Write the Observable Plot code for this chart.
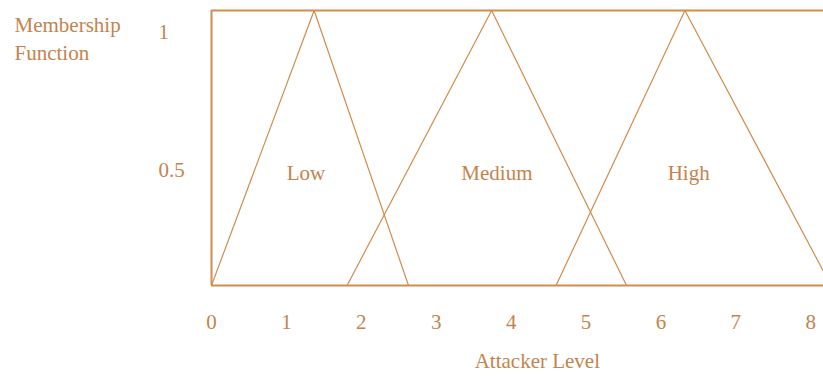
<!DOCTYPE html>
<html><head><meta charset="utf-8">
<script src="https://cdn.jsdelivr.net/npm/d3@7"></script>
<script src="https://cdn.jsdelivr.net/npm/@observablehq/plot@0.6"></script>
<style>html,body{margin:0;padding:0;background:#fff;overflow:hidden}</style>
</head><body><div id="chart"></div>
<script>
const sets = ["Low", "Medium", "High"];
const footLeft = [0, 1.81, 4.60];
const peak = [1.37, 3.74, 6.32];
const footRight = [2.63, 5.54, 8.27];
const labelX = [1.26, 3.81, 6.37];
const labelY = [0.5, 0.5, 0.5];
const xTicks = [0, 1, 2, 3, 4, 5, 6, 7, 8];
const yTicks = [0.5, 1];
const xTitle = "Attacker Level";
const xTitleAt = 4.35;
const yTitle = "Membership\nFunction";

const textColor = "#c3844d";
const lineColor = "#d18d4c";

const pts = sets.flatMap((s, i) => [
  {set: s, x: footLeft[i], y: 0},
  {set: s, x: peak[i], y: 1},
  {set: s, x: footRight[i], y: 0}
]);
const labels = sets.map((s, i) => ({set: s, x: labelX[i], y: labelY[i]}));

const chart = Plot.plot({
  width: 823, height: 377,
  marginLeft: 211, marginRight: 0, marginTop: 10, marginBottom: 92,
  x: {domain: [0, 8.17]},
  y: {domain: [0, 1]},
  style: {fontFamily: "'Liberation Serif', serif", fontSize: "21px", color: textColor, background: "#fff"},
  marks: [
    Plot.line(pts, {x: "x", y: "y", z: "set", stroke: lineColor, strokeWidth: 1.2, clip: true}),
    Plot.ruleY([0, 1], {stroke: lineColor, strokeWidth: 2}),
    Plot.ruleX([0], {stroke: lineColor, strokeWidth: 2}),
    Plot.axisX({ticks: xTicks, tickSize: 0, tickPadding: 29, label: null, tickFormat: d => String(d)}),
    Plot.axisY({ticks: yTicks, tickSize: 0, tickPadding: 0, textAnchor: "start", dx: -53, dy: 22, label: null, tickFormat: d => String(d)}),
    Plot.text(labels, {x: "x", y: "y", text: "set", dy: 25}),
    Plot.text([xTitle], {x: () => xTitleAt, frameAnchor: "bottom", dy: 82}),
    Plot.text([yTitle], {frameAnchor: "top-left", textAnchor: "start", lineAnchor: "top", dx: -197, dy: 1, lineHeight: 1.35})
  ]
});
document.getElementById("chart").appendChild(chart);
</script>
</body></html>
